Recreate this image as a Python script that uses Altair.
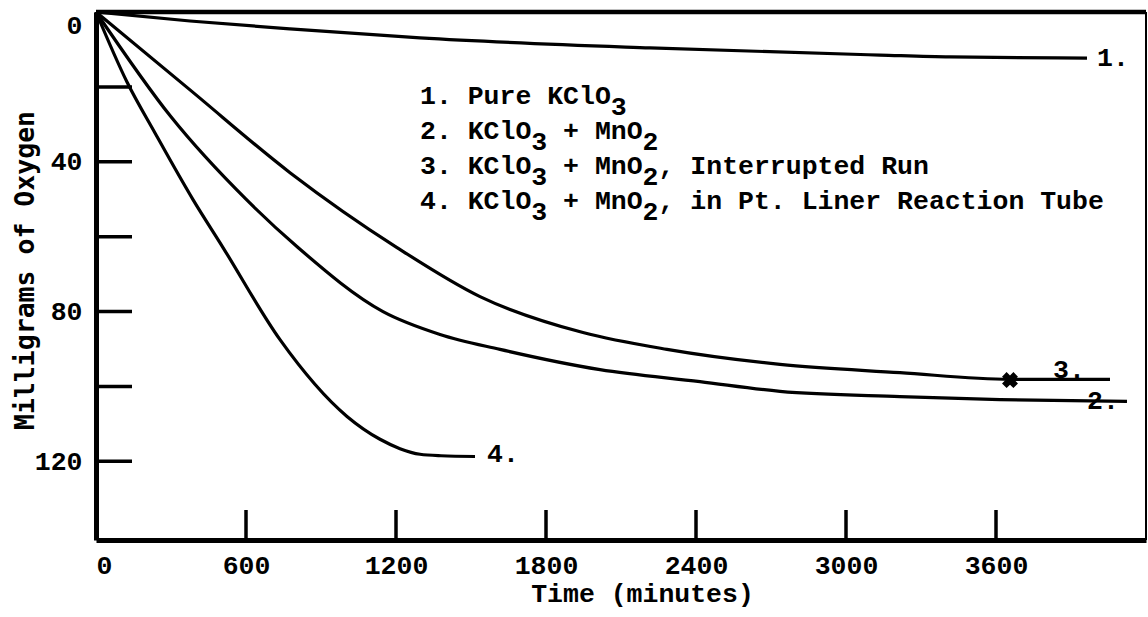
import altair as alt
import pandas as pd

# Oxygen evolved (mg) against time (minutes) for each run
t_pure = [0, 376, 776, 1296, 2216, 3136, 3416, 3964]
mg_pure = [0, 2.4, 4.5, 6.9, 9.6, 11.5, 12.0, 12.3]

t_mno2 = [0, 300, 600, 808, 1148, 1376, 1616, 2016, 2416, 2736, 3216, 3616, 4124]
mg_mno2 = [0, 28.0, 50.0, 62.9, 80.0, 86.1, 90.1, 95.5, 98.7, 101.3, 102.7, 103.5, 104.0]

t_interrupted = [0, 376, 776, 1204, 1536, 1948, 2284, 2736, 3216, 3656, 4056]
mg_interrupted = [0, 20.8, 42.9, 62.9, 76.0, 85.6, 90.1, 94.1, 96.3, 98.1, 98.1]

t_liner = [0, 124, 236, 388, 508, 736, 1004, 1136, 1216, 1296, 1380, 1516]
mg_liner = [0, 18.7, 32.3, 50.1, 62.9, 87.5, 108.0, 114.1, 116.6, 118.1, 118.5, 118.7]

# point where run 3 was interrupted
interrupt_t = [3656]
interrupt_mg = [98.3]

# run numbers written at the end of each curve
end_labels = ["1.", "2.", "3.", "4."]
end_t = [4004, 3964, 3828, 1564]
end_mg = [12.3, 104.0, 95.7, 118.1]

# key text; "_" marks a subscript character
key_lines = [
    "1. Pure KClO_3",
    "2. KClO_3 + MnO_2",
    "3. KClO_3 + MnO_2, Interrupted Run",
    "4. KClO_3 + MnO_2, in Pt. Liner Reaction Tube",
]
key_t = 1296
key_mg = [22.4, 31.8, 41.2, 50.6]

x_tick_values = [600, 1200, 1800, 2400, 3000, 3600]
x_label_values = [0, 600, 1200, 1800, 2400, 3000, 3600]
y_tick_values = [20, 40, 60, 80, 100, 120]
y_label_values = [0, 40, 80, 120]

X_MAX = 4200
Y_MAX = 141
W, H = 1050, 528
FONT = "Liberation Mono"
FS = 26.5
WEIGHT = "bold"
NBSP = "\u00a0"
# monospaced advance (0.6 em) expressed in minutes along the x scale
CHAR_T = 0.6 * FS * X_MAX / W

rows = []
for name, ts, ms in [("1", t_pure, mg_pure), ("2", t_mno2, mg_mno2),
                     ("3", t_interrupted, mg_interrupted), ("4", t_liner, mg_liner)]:
    for i, (t, m) in enumerate(zip(ts, ms)):
        rows.append({"run": name, "t": t, "mg": m, "i": i})
curves = pd.DataFrame(rows)

# split each key line into baseline text and lowered subscript characters
main_rows, sub_rows = [], []
for s, m in zip(key_lines, key_mg):
    chars, col, low = [], 0, False
    for ch in s:
        if ch == "_":
            low = True
            continue
        if low:
            chars.append(NBSP)
            sub_rows.append({"t": key_t + col * CHAR_T, "mg": m, "txt": ch})
            low = False
        else:
            chars.append(ch)
        col += 1
    main_rows.append({"t": key_t, "mg": m, "txt": "".join(chars)})
key_main_df = pd.DataFrame(main_rows)
key_sub_df = pd.DataFrame(sub_rows)

x_scale = alt.Scale(domain=[0, X_MAX], nice=False, zero=False)
y_scale = alt.Scale(domain=[0, Y_MAX], reverse=True, nice=False, zero=False)

x_enc = alt.X(
    "t:Q", scale=x_scale,
    axis=alt.Axis(
        values=x_label_values, ticks=False, grid=False, format="d",
        domainWidth=5, domainColor="black",
        labelFont=FONT, labelFontSize=FS, labelFontWeight=WEIGHT, labelColor="black",
        labelBaseline="middle", labelPadding=25,
        title="Time (minutes)", titleFont=FONT, titleFontSize=FS,
        titleFontWeight=WEIGHT, titleColor="black",
        titleX=546, titleY=53, titleAlign="center", titleBaseline="middle",
    ),
)
y_enc = alt.Y(
    "mg:Q", scale=y_scale,
    axis=alt.Axis(
        values=y_label_values, ticks=False, grid=False, format="d",
        domainWidth=5, domainColor="black", labelFlush=True,
        labelFont=FONT, labelFontSize=FS, labelFontWeight=WEIGHT, labelColor="black",
        labelPadding=14,
        title="Milligrams of Oxygen", titleFont="DejaVu Sans Mono", titleFontSize=26.5,
        titleFontWeight="bold", titleColor="black",
        titleX=-71, titleY=258, titleBaseline="middle",
    ),
)

lines = alt.Chart(curves).mark_line(
    color="black", strokeWidth=3.2, interpolate="monotone"
).encode(x=x_enc, y=y_enc, detail="run:N", order="i:Q")

x_ticks = alt.Chart(pd.DataFrame({"t": x_tick_values})).mark_rule(
    color="black", strokeWidth=3.5
).encode(x=alt.X("t:Q", scale=x_scale), y=alt.value(H), y2=alt.value(H - 30))

y_ticks = alt.Chart(pd.DataFrame({"mg": y_tick_values})).mark_rule(
    color="black", strokeWidth=3.5
).encode(y=alt.Y("mg:Q", scale=y_scale), x=alt.value(0), x2=alt.value(36))

top_edge = alt.Chart(pd.DataFrame({"mg": [0]})).mark_rule(
    color="black", strokeWidth=4.5
).encode(y=alt.Y("mg:Q", scale=y_scale))

right_edge = alt.Chart(pd.DataFrame({"t": [X_MAX]})).mark_rule(
    color="black", strokeWidth=2
).encode(x=alt.X("t:Q", scale=x_scale))

interrupt = alt.Chart(pd.DataFrame({"t": interrupt_t, "mg": interrupt_mg})).mark_point(
    shape="cross", angle=45, filled=True, color="black", opacity=1, size=260, strokeWidth=0
).encode(x=alt.X("t:Q", scale=x_scale), y=alt.Y("mg:Q", scale=y_scale))

text_style = dict(font=FONT, fontSize=FS, fontWeight=WEIGHT, color="black",
                  align="left", baseline="middle")

run_labels = alt.Chart(pd.DataFrame({"t": end_t, "mg": end_mg, "lab": end_labels})).mark_text(
    **text_style
).encode(x=alt.X("t:Q", scale=x_scale), y=alt.Y("mg:Q", scale=y_scale), text="lab:N")

key_main = alt.Chart(key_main_df).mark_text(**text_style).encode(
    x=alt.X("t:Q", scale=x_scale), y=alt.Y("mg:Q", scale=y_scale), text="txt:N"
)

key_sub = alt.Chart(key_sub_df).mark_text(dy=11, **text_style).encode(
    x=alt.X("t:Q", scale=x_scale), y=alt.Y("mg:Q", scale=y_scale), text="txt:N"
)

chart = alt.layer(
    lines, x_ticks, y_ticks, top_edge, right_edge, interrupt, run_labels, key_main, key_sub
).properties(
    width=W, height=H,
    autosize=alt.AutoSizeParams(type="none"),
    padding={"left": 96, "top": 12, "right": 2, "bottom": 77},
    background="white",
).configure_view(stroke=None)

chart.save("out.html", embed_options={"renderer": "svg", "actions": False})
